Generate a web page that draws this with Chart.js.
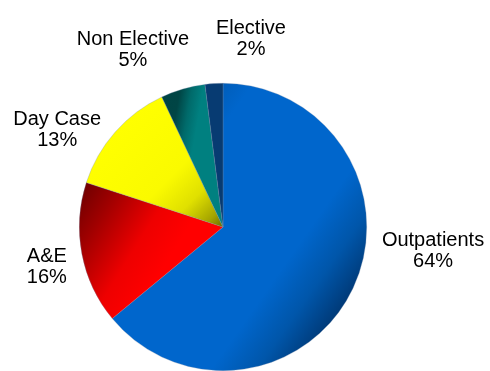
<!DOCTYPE html>
<html>
<head>
<meta charset="utf-8">
<script src="https://cdn.jsdelivr.net/npm/chart.js@4/dist/chart.umd.min.js"></script>
<style>
  html, body { margin: 0; padding: 0; background: #ffffff; }
  canvas { display: block; }
</style>
</head>
<body>
<canvas id="chart" width="490" height="371"></canvas>
<script>
// Activity mix by point of delivery
const categories = ['Outpatients', 'A&E', 'Day Case', 'Non Elective', 'Elective'];
const shares = [64, 16, 13, 5, 2];
const shareLabels = ['64%', '16%', '13%', '5%', '2%'];

// Shading for each slice: gradient direction (degrees, screen space) and colour stops
const shading = [
  { angle: 35, stops: [[0, '#004C9C'], [0.15, '#0057AD'], [0.3, '#0066CC'], [0.75, '#0066CC'], [0.88, '#0056AA'], [1, '#003A78']] },
  { angle: 32, stops: [[0, '#6A0000'], [0.12, '#A00000'], [0.28, '#EE0000'], [0.4, '#FF0000'], [1, '#FF0000']] },
  { angle: 45, stops: [[0, '#FFFF00'], [0.25, '#FAFA00'], [0.36, '#E0E000'], [0.45, '#A4A400'], [0.5, '#6A6A00'], [1, '#6A6A00']] },
  { angle: 10, stops: [[0, '#004040'], [0.27, '#004545'], [0.31, '#006A6A'], [0.35, '#008080'], [1, '#008080']] },
  { angle: 0, stops: [[0, '#073B72'], [1, '#073B72']] }
];

function sliceFill(ctx) {
  const chart = ctx.chart;
  const s = shading[ctx.dataIndex];
  const area = chart.chartArea;
  if (!area) return s.stops[Math.floor(s.stops.length / 2)][1];
  const cx = (area.left + area.right) / 2;
  const cy = (area.top + area.bottom) / 2;
  const r = Math.min(area.right - area.left, area.bottom - area.top) / 2;
  const a = s.angle * Math.PI / 180;
  const dx = Math.cos(a) * r, dy = Math.sin(a) * r;
  const g = chart.ctx.createLinearGradient(cx - dx, cy - dy, cx + dx, cy + dy);
  s.stops.forEach(([t, c]) => g.addColorStop(t, c));
  return g;
}

// Label placement: offset of each text block from the slice's outer mid-point
const labelOffsets = [[80, -39], [-35, 11], [-58, -4], [-50, -41], [37, -47]];

const sliceLabels = {
  id: 'sliceLabels',
  afterDatasetsDraw(chart) {
    const meta = chart.getDatasetMeta(0);
    const c = chart.ctx;
    c.save();
    c.font = '20px "Liberation Sans", Arial, sans-serif';
    c.fillStyle = '#000000';
    c.textAlign = 'center';
    c.textBaseline = 'alphabetic';
    meta.data.forEach((arc, i) => {
      const mid = (arc.startAngle + arc.endAngle) / 2;
      const ex = arc.x + Math.cos(mid) * arc.outerRadius;
      const ey = arc.y + Math.sin(mid) * arc.outerRadius;
      const x = ex + labelOffsets[i][0];
      const y = ey + labelOffsets[i][1];
      c.fillText(categories[i], x, y - 3);
      c.fillText(shareLabels[i], x, y + 18);
    });
    c.restore();
  }
};

new Chart(document.getElementById('chart'), {
  type: 'pie',
  data: {
    labels: categories,
    datasets: [{
      data: shares,
      backgroundColor: sliceFill,
      borderWidth: 0.6,
      borderColor: 'rgba(120,140,170,0.5)'
    }]
  },
  options: {
    responsive: false,
    animation: false,
    layout: { padding: { left: 79, right: 123, top: 83, bottom: 0 } },
    plugins: {
      legend: { display: false },
      tooltip: { enabled: false }
    }
  },
  plugins: [sliceLabels]
});
</script>
</body>
</html>
